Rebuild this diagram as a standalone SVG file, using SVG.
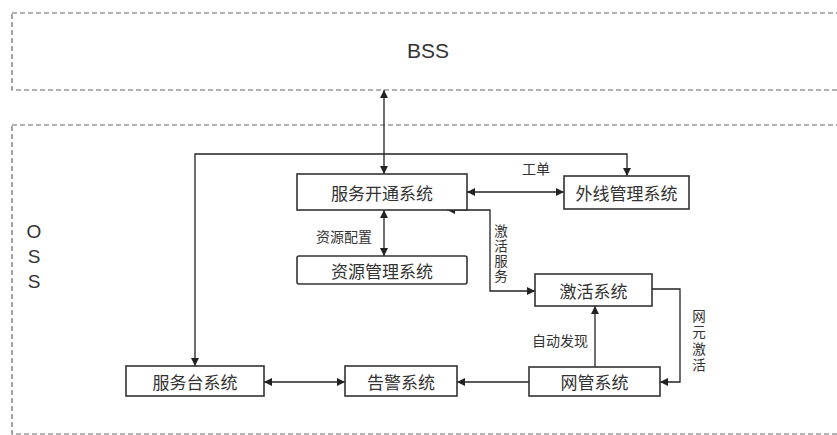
<svg xmlns="http://www.w3.org/2000/svg" width="837" height="435" viewBox="0 0 837 435">
<defs>
<marker id="ah" viewBox="0 0 10 10" refX="10" refY="5" markerWidth="8" markerHeight="8" markerUnits="userSpaceOnUse" orient="auto-start-reverse">
<path d="M0,0 L10,5 L0,10 z" fill="#222"/>
</marker>
<style>
.dash{fill:none;stroke:#666;stroke-width:1.2;stroke-dasharray:5 3}
.box{fill:#fff;stroke:#333;stroke-width:1.6}
.t{font-family:"Noto Sans CJK SC",sans-serif;font-size:17px;fill:#333;text-anchor:middle;dominant-baseline:central}
.s{font-family:"Noto Sans CJK SC",sans-serif;font-size:14px;fill:#333;text-anchor:middle}
.v{font-family:"Noto Sans CJK SC",sans-serif;font-size:13.5px;fill:#333;writing-mode:vertical-rl;text-anchor:start}
.big{font-family:"Liberation Sans",Arial,sans-serif;font-size:21px;fill:#333;text-anchor:middle}
.c{fill:none;stroke:#222;stroke-width:1.3}
</style>
</defs>
<g id="bss">
<rect class="dash" x="12" y="13" width="850" height="77"/>
<text class="big" x="428" y="58">BSS</text>
</g>
<g id="oss">
<rect class="dash" x="12" y="125" width="850" height="309"/>
<text class="big" x="34" y="238" style="font-size:19px">O</text>
<text class="big" x="34" y="263" style="font-size:19px">S</text>
<text class="big" x="34" y="288" style="font-size:19px">S</text>
</g>
<g id="connectors">
<path class="c" d="M384,90 V174" marker-start="url(#ah)" marker-end="url(#ah)"/>
<path class="c" d="M195,366 V154 H627 V176" marker-start="url(#ah)" marker-end="url(#ah)"/>
<path class="c" d="M467,192 H564" marker-start="url(#ah)" marker-end="url(#ah)"/>
<path class="c" d="M384,210 V256" marker-start="url(#ah)" marker-end="url(#ah)"/>
<path class="c" d="M447,210 H490 V291 H535" marker-start="url(#ah)" marker-end="url(#ah)"/>
<path class="c" d="M652,289 H680 V382 H660" marker-end="url(#ah)"/>
<path class="c" d="M595,367 V306" marker-end="url(#ah)"/>
<path class="c" d="M529,382 H457" marker-end="url(#ah)"/>
<path class="c" d="M264,382 H345" marker-start="url(#ah)" marker-end="url(#ah)"/>
<text class="s" x="536" y="174">工单</text>
<text class="s" x="344" y="242">资源配置</text>
<text class="v" x="501" y="224" style="letter-spacing:1.5px">激活服务</text>
<text class="v" x="699" y="309" style="letter-spacing:3px">网元激活</text>
<text class="s" x="560" y="346">自动发现</text>
</g>
<g id="fk"><rect class="box" x="297" y="174" width="170" height="36"/><text class="t" x="382" y="192">服务开通系统</text></g>
<g id="wx"><rect class="box" x="564" y="176" width="125" height="33"/><text class="t" x="626.5" y="192.5">外线管理系统</text></g>
<g id="zy"><rect class="box" x="297" y="256" width="170" height="28" rx="2"/><text class="t" x="382" y="270">资源管理系统</text></g>
<g id="jh"><rect class="box" x="535" y="274" width="117" height="32"/><text class="t" x="593.5" y="290">激活系统</text></g>
<g id="fwt"><rect class="box" x="126" y="366" width="138" height="30"/><text class="t" x="195" y="381">服务台系统</text></g>
<g id="gj"><rect class="box" x="345" y="366" width="112" height="30"/><text class="t" x="401" y="381">告警系统</text></g>
<g id="wg"><rect class="box" x="529" y="367" width="131" height="29"/><text class="t" x="594.5" y="381.5">网管系统</text></g>
</svg>
